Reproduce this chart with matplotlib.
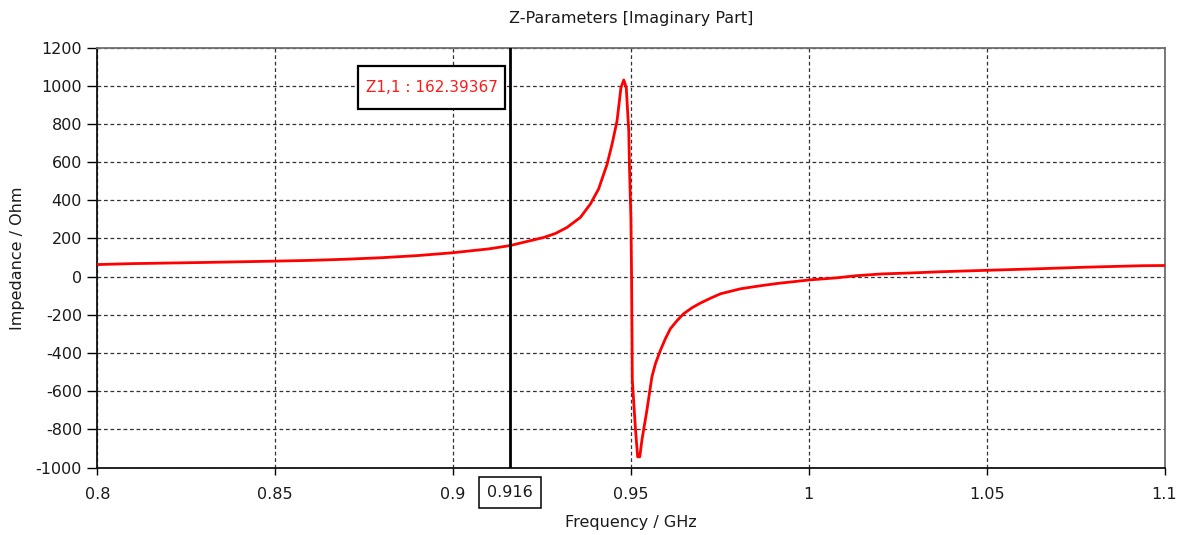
import matplotlib
matplotlib.use("Agg")
import matplotlib.pyplot as plt
import matplotlib.transforms as mtransforms
from matplotlib.patches import Rectangle

# Imaginary part of Z1,1 versus frequency
freq_ghz = [0.800, 0.810, 0.830, 0.850, 0.860, 0.870, 0.880, 0.890, 0.900, 0.910,
            0.916, 0.9217, 0.9255, 0.9288, 0.9320, 0.9358, 0.9386, 0.9409, 0.9433,
            0.9447, 0.9461, 0.9472, 0.9480, 0.9487, 0.9494, 0.9496, 0.9500, 0.9502,
            0.9503, 0.9504, 0.9513, 0.9519, 0.9525, 0.9531, 0.9545, 0.9559, 0.9569,
            0.9583, 0.9597, 0.9611, 0.9630, 0.9648, 0.9672, 0.9695, 0.9724, 0.9752,
            0.9780, 0.9808, 0.9836, 0.9864, 0.9916, 1.0005, 1.0075,
            1.0136, 1.0206, 1.0286, 1.0380, 1.0502, 1.0628, 1.0774, 1.0938, 1.1000]
z11_imag = [63, 68, 74, 81, 85, 91, 99, 110, 125, 145,
            162.39367, 188, 205, 226, 257, 310, 380, 458, 588,
            693, 815, 989, 1030, 989, 762, 571, 310, -21,
            -282, -543, -804, -944, -944, -856, -700, -526, -456,
            -386, -325, -273, -230, -195, -163, -139, -113, -90,
            -77, -64, -56, -48, -35, -17, -7,
            5, 14, 19, 26, 33, 40, 49, 57, 58]

x_ticks = [0.8, 0.85, 0.9, 0.95, 1.0, 1.05, 1.1]
x_tick_labels = ["0.8", "0.85", "0.9", "0.95", "1", "1.05", "1.1"]
y_ticks = list(range(-1000, 1201, 200))

marker_freq = 0.916
marker_value = 162.39367
marker_label = f"Z1,1 : {marker_value:.5f}"

title = "Z-Parameters [Imaginary Part]"
x_label = "Frequency / GHz"
y_label = "Impedance / Ohm"

W, H = 1194, 535
plt.rcParams["font.family"] = ["DejaVu Sans"]
plt.rcParams["axes.unicode_minus"] = False
text_color = "#1a1a1a"
fs = 11.5

fig = plt.figure(figsize=(W / 100, H / 100), dpi=100)
ax = fig.add_axes([97.3 / W, 1 - 467.5 / H, (1164.5 - 97.3) / W, (467.5 - 47.5) / H])

ax.plot(freq_ghz, z11_imag, color="#ff0000", lw=2.0, zorder=3,
        solid_joinstyle="round")

ax.set_xlim(0.8, 1.1)
ax.set_ylim(-1000, 1200)
ax.set_xticks(x_ticks)
ax.set_xticklabels(x_tick_labels)
ax.set_yticks(y_ticks)

ax.grid(True, color="#333333", linestyle=(0, (3, 2.2)), linewidth=0.9)
ax.tick_params(axis="x", direction="out", length=5, width=1, pad=9,
               labelsize=fs, labelcolor=text_color)
ax.tick_params(axis="y", direction="out", length=7, width=1, pad=4,
               labelsize=fs, labelcolor=text_color)

for side in ("left", "bottom"):
    ax.spines[side].set_color("#111111")
    ax.spines[side].set_linewidth(1.3)
for side in ("top", "right"):
    ax.spines[side].set_color("#6e6e6e")
    ax.spines[side].set_linewidth(1.3)

# marker line and its readout box
ax.axvline(marker_freq, color="black", lw=2.0, zorder=4)
box_x0, box_x1 = 0.8733, 0.9147
box_y0, box_y1 = 877, 1102
ax.add_patch(Rectangle((box_x0, box_y0), box_x1 - box_x0, box_y1 - box_y0,
                       facecolor="white", edgecolor="black", lw=1.6, zorder=5))
ax.text((box_x0 + box_x1) / 2, (box_y0 + box_y1) / 2, marker_label,
        ha="center", va="center", color="#ff1a1a", fontsize=11, zorder=6)

trans = mtransforms.blended_transform_factory(ax.transData, ax.transAxes)
ax.text(marker_freq, -0.0595, f"{marker_freq:g}", transform=trans,
        ha="center", va="center", fontsize=fs, color=text_color,
        bbox=dict(boxstyle="square,pad=0.5", fc="white", ec="black", lw=1.1),
        clip_on=False)

fig.text(631 / W, 1 - 19 / H, title, ha="center", va="center",
         fontsize=fs, color=text_color)
fig.text(631 / W, 1 - 523 / H, x_label, ha="center", va="center",
         fontsize=fs, color=text_color)
fig.text(18 / W, 1 - 258 / H, y_label, ha="center", va="center",
         rotation=90, fontsize=fs, color=text_color)

fig.savefig("out.png", dpi=100, facecolor="white")
